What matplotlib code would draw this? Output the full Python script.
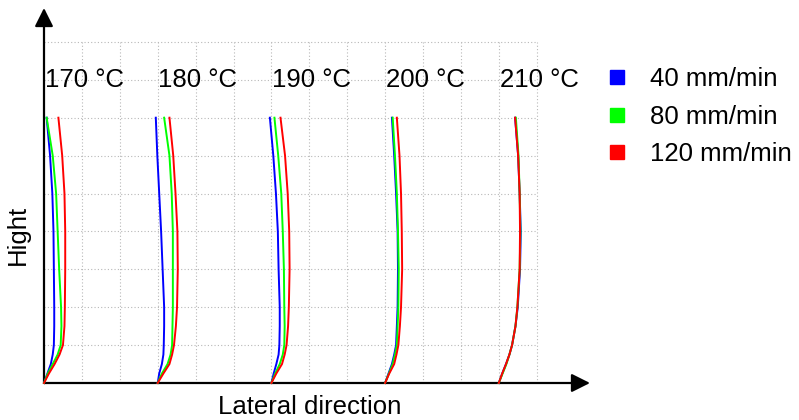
import matplotlib
matplotlib.use("Agg")
import matplotlib.pyplot as plt
from matplotlib.lines import Line2D

plt.rcParams['font.family'] = ['Liberation Sans', 'DejaVu Sans']

# Data (grid units)
temperatures = ["170 °C", "180 °C", "190 °C", "200 °C", "210 °C"]
offsets = [0, 3, 6, 9, 12]
speeds = ["40 mm/min", "80 mm/min", "120 mm/min"]
colors = ["#0000ff", "#00ff00", "#ff0000"]
heights = [0, 0.25, 0.5, 0.75, 1, 1.5, 2, 3, 4, 5, 6, 7]

width_170 = [
    [0, 0.09, 0.18, 0.23, 0.26, 0.27, 0.27, 0.26, 0.25, 0.22, 0.16, 0.07],
    [0, 0.10, 0.23, 0.36, 0.44, 0.46, 0.45, 0.40, 0.36, 0.32, 0.23, 0.07],
    [0, 0.13, 0.28, 0.41, 0.50, 0.54, 0.55, 0.56, 0.56, 0.54, 0.48, 0.38],
]
width_180 = [
    [0, 0.04, 0.11, 0.15, 0.16, 0.17, 0.17, 0.13, 0.09, 0.04, -0.01, -0.05],
    [0, 0.11, 0.26, 0.34, 0.38, 0.39, 0.40, 0.40, 0.40, 0.37, 0.31, 0.17],
    [0, 0.15, 0.31, 0.38, 0.43, 0.48, 0.51, 0.53, 0.52, 0.47, 0.41, 0.31],
]
width_190 = [
    [0, 0.06, 0.13, 0.19, 0.21, 0.22, 0.22, 0.19, 0.17, 0.12, 0.05, -0.04],
    [0, 0.10, 0.22, 0.30, 0.34, 0.35, 0.34, 0.33, 0.30, 0.26, 0.18, 0.08],
    [0, 0.13, 0.28, 0.35, 0.40, 0.44, 0.46, 0.48, 0.47, 0.43, 0.36, 0.24],
]
width_200 = [
    [0, 0.09, 0.18, 0.24, 0.29, 0.31, 0.33, 0.34, 0.33, 0.29, 0.24, 0.18],
    [0, 0.10, 0.20, 0.26, 0.31, 0.33, 0.35, 0.36, 0.34, 0.31, 0.26, 0.20],
    [0, 0.11, 0.24, 0.30, 0.35, 0.39, 0.42, 0.45, 0.44, 0.42, 0.38, 0.31],
]
width_210 = [
    [0, 0.09, 0.19, 0.28, 0.35, 0.44, 0.50, 0.56, 0.58, 0.55, 0.51, 0.43],
    [0, 0.10, 0.20, 0.28, 0.35, 0.44, 0.49, 0.55, 0.57, 0.55, 0.52, 0.45],
    [0, 0.09, 0.19, 0.28, 0.35, 0.44, 0.49, 0.55, 0.56, 0.55, 0.51, 0.43],
]
widths = [width_170, width_180, width_190, width_200, width_210]

W, H = 799, 420
fig = plt.figure(figsize=(W / 100, H / 100), dpi=100)
x0, y0 = 44, 383
unit = 37.9
xmax, ymax = (590 - x0) / unit, (y0 - 8) / unit
ax = fig.add_axes([x0 / W, (H - y0) / H, (590 - x0) / W, (y0 - 8) / H])
ax.set_xlim(0, xmax)
ax.set_ylim(0, ymax)
ax.axis('off')

# grid
grid_kw = dict(color='#b8b8b8', lw=0.8, linestyles=(0, (1, 2)), zorder=0)
ax.vlines(range(1, 14), 0, 9, **grid_kw)
ax.hlines(range(1, 10), 0, 13, **grid_kw)

# axes arrows
arrow_kw = dict(arrowstyle='-|>', mutation_scale=28, color='black', lw=1.6,
                shrinkA=0, shrinkB=0)
ax.annotate('', xy=(xmax, 0), xytext=(0, 0), arrowprops=arrow_kw,
            annotation_clip=False)
ax.annotate('', xy=(0, ymax), xytext=(0, 0), arrowprops=arrow_kw,
            annotation_clip=False)

for off, temp, ws in zip(offsets, temperatures, widths):
    for w, c in zip(ws, colors):
        ax.plot([off + v for v in w], heights, color=c, lw=1.4,
                solid_joinstyle='round', zorder=3, clip_on=False)
    ax.text(off + 0.02, 8, temp, ha='left', va='center', fontsize=18.5,
            zorder=4)

handles = [Line2D([], [], marker='s', linestyle='none', markersize=10,
                  color=c) for c in colors]
fig.legend(handles, speeds, loc='upper left',
           bbox_to_anchor=(591 / W, (H - 57) / H), frameon=False,
           fontsize=18.5, handletextpad=0.7, labelspacing=0.52,
           borderaxespad=0, handlelength=1.2)

fig.text(18 / W, (H - 235) / H, 'Hight', rotation=90, ha='center',
         va='center', fontsize=18.5)
fig.text(310 / W, (H - 407) / H, 'Lateral direction', ha='center',
         va='center', fontsize=18.5)

fig.savefig('out.png', dpi=100)
